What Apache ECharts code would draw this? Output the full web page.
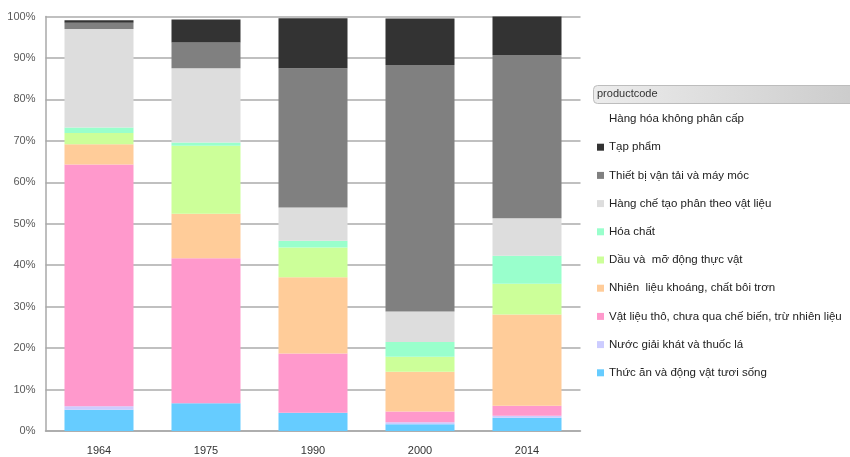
<!DOCTYPE html>
<html>
<head>
<meta charset="utf-8">
<script src="https://cdn.jsdelivr.net/npm/echarts@6/dist/echarts.min.js"></script>
<style>
html,body{margin:0;padding:0;background:#fff;}
#c{width:850px;height:457px;}
</style>
</head>
<body>
<div id="c"></div>
<script>
var categories = ['1964', '1975', '1990', '2000', '2014'];
var yTickLabels = ['0%','10%','20%','30%','40%','50%','60%','70%','80%','90%','100%'];

var thucAn      = [5.1, 6.7, 4.4, 1.6, 3.2];
var nuocGiaiKhat= [0.9, 0.0, 0.0, 0.5, 0.5];
var vatLieuTho  = [58.3, 35.0, 14.3, 2.6, 2.4];
var nhienLieu   = [4.9, 10.7, 18.4, 9.6, 22.0];
var dauMo       = [2.7, 16.4, 7.2, 3.6, 7.4];
var hoaChat     = [1.3, 0.8, 1.6, 3.6, 6.8];
var hangCheTao  = [23.8, 17.9, 8.0, 7.3, 9.0];
var thietBi     = [1.5, 6.2, 33.6, 59.5, 39.4];
var tapPham     = [0.6, 5.6, 12.1, 11.2, 9.3];
var khongPhanCap= [null, null, null, null, null];

var seriesNames = [
  'Thức ăn và động vật tươi sống',
  'Nước giải khát và thuốc lá',
  'Vật liệu thô, chưa qua chế biến, trừ nhiên liệu',
  'Nhiên  liệu khoáng, chất bôi trơn',
  'Dầu và  mỡ động thực vật',
  'Hóa chất',
  'Hàng chế tạo phân theo vật liệu',
  'Thiết bị vận tải và máy móc',
  'Tạp phẩm',
  'Hàng hóa không phân cấp'
];
var seriesValues = [thucAn, nuocGiaiKhat, vatLieuTho, nhienLieu, dauMo, hoaChat, hangCheTao, thietBi, tapPham, khongPhanCap];
var seriesColors = ['#66CCFF','#CCCCFF','#FF99CC','#FFCC99','#CCFF99','#99FFCC','#DDDDDD','#808080','#333333','#FFFFFF'];

var chart = echarts.init(document.getElementById('c'), null, {renderer:'canvas'});
var series = seriesNames.map(function(n, i){
  return {
    name: n, type: 'bar', stack: 'total',
    data: seriesValues[i],
    barCategoryGap: '35.5%',
    itemStyle: {color: seriesColors[i]},
    emphasis: {disabled: true}
  };
});

chart.setOption({
  animation: false,
  backgroundColor: '#fff',
  grid: {left: 45.5, right: 269.5, top: 16.5, bottom: 26, containLabel: false},
  xAxis: {
    type: 'category', data: categories,
    axisLine: {show: true, lineStyle: {color: '#a8a8a8', width: 1.5}},
    axisTick: {show: false},
    axisLabel: {color: '#333', fontFamily: 'Liberation Sans', fontSize: 11, margin: 14}
  },
  yAxis: {
    type: 'value', min: 0, max: 100, interval: 10,
    axisLine: {show: true, lineStyle: {color: '#a8a8a8', width: 1.5}},
    axisTick: {show: false},
    axisLabel: {color: '#595959', fontFamily: 'Liberation Sans', fontSize: 11, margin: 10,
      formatter: function(v){ return yTickLabels[Math.round(v/10)]; }},
    splitLine: {show: true, lineStyle: {color: '#ababab', width: 1.5}}
  },
  legend: {
    orient: 'vertical', left: 597, top: 112, padding: 0,
    data: seriesNames.slice().reverse(),
    itemWidth: 7, itemHeight: 7, itemGap: 14.2,
    icon: 'rect',
    selectedMode: false,
    textStyle: {color: '#222', fontFamily: 'Liberation Sans', fontSize: 11.5, lineHeight: 14}
  },
  graphic: [
    {type: 'rect', left: 593, top: 85, shape: {width: 262, height: 18, r: 4},
     style: {fill: new echarts.graphic.LinearGradient(0, 0, 1, 0, [{offset:0,color:'#ececec'},{offset:1,color:'#cccccc'}]), stroke: '#bdbdbd', lineWidth: 1}},
    {type: 'text', left: 597, top: 88, style: {text: 'productcode', fill: '#333', font: '11px "Liberation Sans"'}}
  ],
  series: series
});
</script>
</body>
</html>
